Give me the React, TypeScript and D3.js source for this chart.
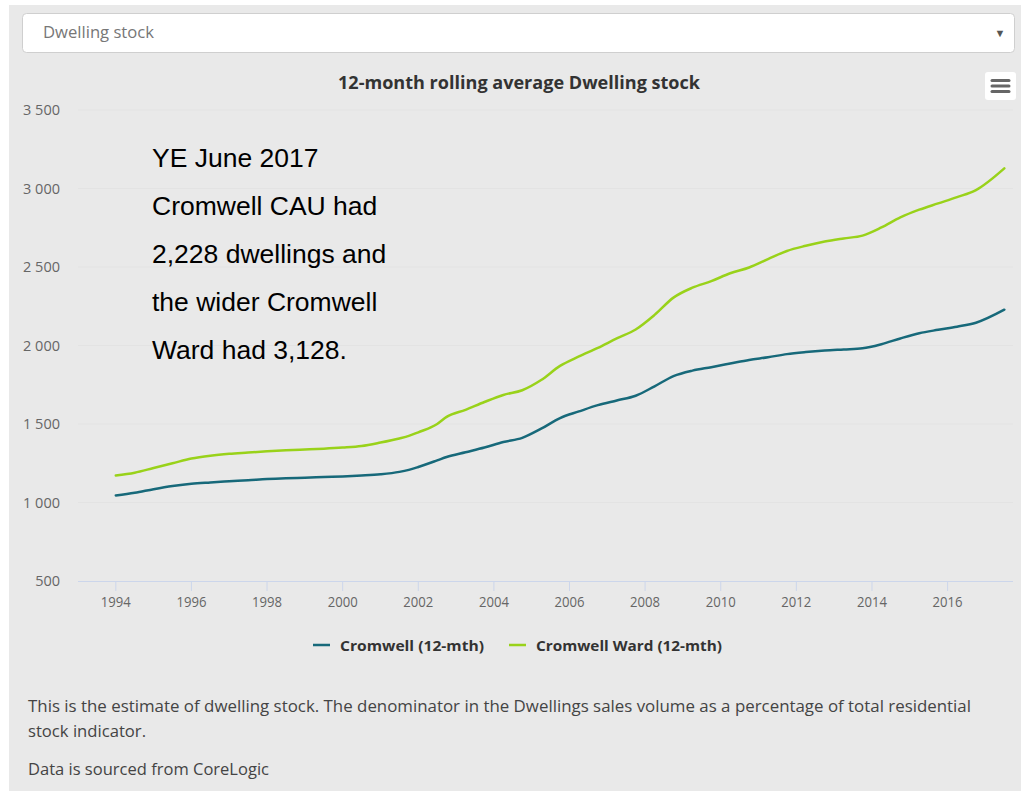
import React from "react";
import * as d3 from "d3";

const dates: number[] = [
  1994.0, 1994.5, 1995.0, 1995.5, 1996.0, 1996.5, 1997.0, 1997.5, 1998.0, 1998.5,
  1999.0, 1999.5, 2000.0, 2000.5, 2001.0, 2001.5, 2001.75, 2002.0, 2002.5, 2002.75,
  2003.25, 2003.75, 2004.25, 2004.75, 2005.25, 2005.75, 2006.25, 2006.75, 2007.25, 2007.75,
  2008.25, 2008.75, 2009.25, 2009.75, 2010.25, 2010.75, 2011.25, 2011.75, 2012.25, 2012.75,
  2013.25, 2013.75, 2014.25, 2014.75, 2015.25, 2015.75, 2016.25, 2016.75, 2017.5,
];

const cromwell: number[] = [
  1045, 1062, 1085, 1105, 1120, 1128, 1135, 1142, 1150, 1155,
  1158, 1162, 1166, 1172, 1180, 1195, 1208, 1226, 1268, 1290,
  1320, 1350, 1385, 1412, 1470, 1538, 1580, 1620, 1650, 1680,
  1740, 1805, 1840, 1862, 1885, 1908, 1925, 1945, 1958, 1968,
  1975, 1982, 2008, 2045, 2078, 2100, 2120, 2145, 2228,
];

const cromwellWard: number[] = [
  1172, 1190, 1220, 1250, 1280, 1298, 1310, 1318, 1326, 1333,
  1338, 1343, 1350, 1360, 1382, 1408, 1424, 1447, 1500, 1545,
  1590, 1640, 1685, 1715, 1780, 1870, 1930, 1985, 2045, 2102,
  2195, 2305, 2368, 2410, 2460, 2497, 2550, 2602, 2635, 2662,
  2682, 2700, 2752, 2816, 2865, 2905, 2945, 2990, 3128,
];

const yTicks: number[] = [500, 1000, 1500, 2000, 2500, 3000, 3500];
const xTicks: number[] = [1994, 1996, 1998, 2000, 2002, 2004, 2006, 2008, 2010, 2012, 2014, 2016];

const seriesNames = ["Cromwell (12-mth)", "Cromwell Ward (12-mth)"];
const seriesColors = ["#17697a", "#99d21a"];

const annotationLines = [
  "YE June 2017",
  "Cromwell CAU had",
  "2,228 dwellings and",
  "the wider Cromwell",
  "Ward had 3,128.",
];

const footerLines = [
  "This is the estimate of dwelling stock. The denominator in the Dwellings sales volume as a percentage of total residential",
  "stock indicator.",
  "Data is sourced from CoreLogic",
];

const UI = "'Open Sans', 'Noto Sans', sans-serif";

export default function App() {
  const left = 78;
  const right = 1013;
  const top = 110;
  const bottom = 581;

  const x = d3.scaleLinear().domain([1993.0, 2017.73]).range([left, right]);
  const y = d3.scaleLinear().domain([500, 3500]).range([bottom, top]);

  const line = d3
    .line<[number, number]>()
    .x((d) => x(d[0]))
    .y((d) => y(d[1]))
    .curve(d3.curveMonotoneX);

  const seriesData = [cromwell, cromwellWard].map((vals) =>
    dates.map((d, i) => [d, vals[i]] as [number, number])
  );

  const fmt = (v: number) => d3.format(",")(v).replace(/,/g, " ");

  const footerY = [712, 737, 775];
  const footerW = [943, 118, 241];
  const legendX = [313, 509];
  const legendW = [144, 186];

  return (
    <svg
      width={1026}
      height={793}
      style={{ position: "absolute", left: 0, top: 0, background: "#fff" }}
    >
      <rect x={9} y={5} width={1012} height={786} fill="#e9e9e9" />

      {/* dropdown */}
      <rect x={22.5} y={13.5} width={992} height={39} rx={4} fill="#fff" stroke="#cfcfcf" />
      <text x={43} y={38} fontFamily={UI} fontSize={16} fill="#777" textLength={111} lengthAdjust="spacingAndGlyphs">
        Dwelling stock
      </text>
      <text x={1000} y={37} fontFamily={UI} fontSize={11} fill="#555" textAnchor="middle">
        ▼
      </text>

      {/* title */}
      <text
        x={338}
        y={89}
        fontFamily={UI}
        fontSize={18}
        fontWeight="bold"
        fill="#333"
        textLength={362}
        lengthAdjust="spacingAndGlyphs"
      >
        12-month rolling average Dwelling stock
      </text>

      {/* menu button */}
      <rect x={985} y={72} width={31} height={28} rx={3} fill="#fff" />
      {[0, 1, 2].map((i) => (
        <rect key={i} x={990.5} y={79 + i * 5.5} width={20} height={3} rx={1.5} fill="#666" />
      ))}

      {/* grid + y labels */}
      {yTicks.map((t) => (
        <g key={t}>
          {t !== 500 && (
            <line x1={left} x2={right} y1={y(t)} y2={y(t)} stroke="#e3e3e3" strokeWidth={1} />
          )}
          <text
            x={60}
            y={y(t) + 5}
            textAnchor="end"
            fontFamily={UI}
            fontSize={14.5}
            fill="#666"
          >
            {fmt(t)}
          </text>
        </g>
      ))}

      {/* x axis */}
      <line x1={left} x2={right} y1={bottom + 0.5} y2={bottom + 0.5} stroke="#ccd6eb" strokeWidth={1} />
      {xTicks.map((t) => (
        <g key={t}>
          <line x1={x(t)} x2={x(t)} y1={bottom} y2={bottom + 10} stroke="#ccd6eb" strokeWidth={1} />
          <text
            x={x(t) - 15}
            y={bottom + 26}
            fontFamily={UI}
            fontSize={14}
            fill="#666"
            textLength={30}
            lengthAdjust="spacingAndGlyphs"
          >
            {t}
          </text>
        </g>
      ))}

      {/* series */}
      {seriesData.map((d, i) => (
        <path
          key={i}
          d={line(d) || ""}
          fill="none"
          stroke={seriesColors[i]}
          strokeWidth={2.5}
          strokeLinejoin="round"
          strokeLinecap="round"
        />
      ))}

      {/* annotation */}
      {annotationLines.map((s, i) => (
        <text
          key={i}
          x={152}
          y={167 + i * 48}
          fontFamily="'Liberation Sans', Arial, sans-serif"
          fontSize={26.5}
          fill="#000"
        >
          {s}
        </text>
      ))}

      {/* legend */}
      {legendX.map((lx, i) => (
        <g key={i}>
          <line x1={lx} x2={lx + 17} y1={645} y2={645} stroke={seriesColors[i]} strokeWidth={2.5} />
          <text
            x={lx + 27}
            y={650.5}
            fontFamily={UI}
            fontSize={15}
            fontWeight="bold"
            fill="#333"
            textLength={legendW[i]}
            lengthAdjust="spacingAndGlyphs"
          >
            {seriesNames[i]}
          </text>
        </g>
      ))}

      {/* footer */}
      {footerLines.map((s, i) => (
        <text
          key={i}
          x={28}
          y={footerY[i]}
          fontFamily={UI}
          fontSize={17}
          fill="#444"
          textLength={footerW[i]}
          lengthAdjust="spacingAndGlyphs"
        >
          {s}
        </text>
      ))}
    </svg>
  );
}
